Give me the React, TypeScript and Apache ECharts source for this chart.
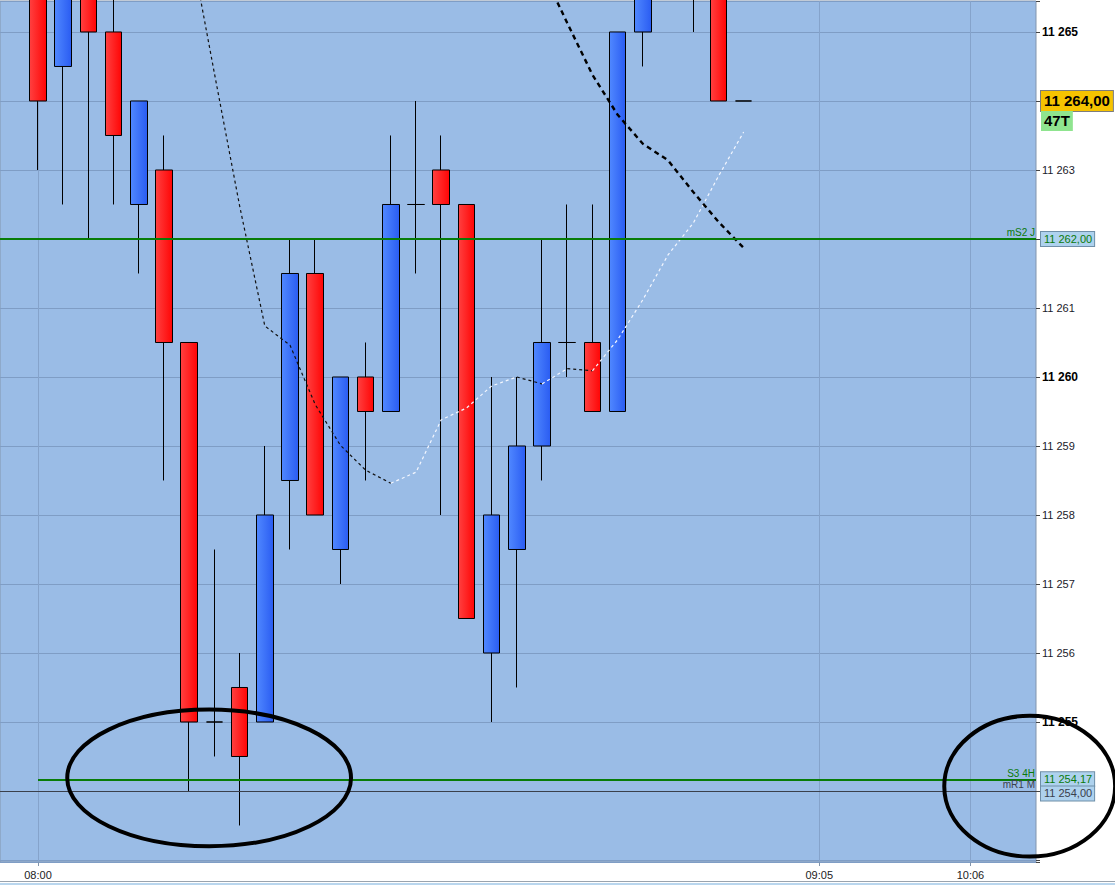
import { useEffect, useRef } from "react";
import * as echarts from "echarts";

// bar index of each time label on the x axis
const TIME_LABELS = ["08:00", "09:05", "10:06"];
const TIME_LABEL_BARS = [0, 31, 37];

// 47-tick bars, one entry per bar
const OPENS = [11266, 11264.5, 11266, 11265, 11262.5, 11263, 11260.5, 11255, 11255.5, 11255, 11258.5, 11261.5, 11257.5, 11260, 11259.5, 11262.5, 11263, 11262.5, 11256, 11257.5, 11259, 11260.5, 11260.5, 11259.5, 11265, 11266, 11266.5, 11266, 11264];
const CLOSES = [11264, 11266, 11265, 11263.5, 11264, 11260.5, 11255, 11255, 11254.5, 11258, 11261.5, 11258, 11260, 11259.5, 11262.5, 11262.5, 11262.5, 11256.5, 11258, 11259, 11260.5, 11260.5, 11259.5, 11265, 11266, 11267, 11266, 11264, 11264];
const LOWS = [11263, 11262.5, 11262, 11262.5, 11261.5, 11258.5, 11254, 11254.5, 11253.5, 11255, 11257.5, 11258, 11257, 11258.5, 11259.5, 11261.5, 11258, 11256.5, 11255, 11255.5, 11258.5, 11260, 11259.5, 11259.5, 11264.5, 11265.75, 11265, 11264, 11264];
const HIGHS = [11266.5, 11266.5, 11266.5, 11266, 11264, 11263.5, 11260.5, 11257.5, 11256, 11259, 11262, 11262, 11260, 11260.5, 11263.5, 11264, 11263.5, 11262.5, 11260, 11260, 11262, 11262.5, 11262.5, 11265, 11266.5, 11267.5, 11267, 11266, 11264];

// moving averages (fast one is drawn white while rising, black while falling)
const MA_FAST = [null, null, null, null, null, null, 11266.35, 11264.4, 11262.48, 11260.74, 11260.46, 11259.6, 11259.01, 11258.65, 11258.46, 11258.62, 11259.38, 11259.55, 11259.87, 11260.0, 11259.9, 11260.12, 11260.09, 11260.54, 11261.12, 11261.77, 11262.23, 11262.91, 11263.55];
const MA_SLOW = [null, null, null, null, null, null, null, null, null, null, null, null, null, null, null, null, null, null, null, null, 11265.9, 11265.13, 11264.38, 11263.8, 11263.38, 11263.14, 11262.68, 11262.25, 11261.87];

// pivot levels
const LEVEL_NAMES = ["mS2 J", "S3 4H", "mR1 M"];
const LEVEL_VALUES = [11262, 11254.17, 11254];
const LEVEL_FROM_BAR: (number | null)[] = [null, 0, null];

const LAST_PRICE = 11264;
const BAR_TYPE = "47T";

// hand-drawn circles: centre (bar, price) and radii (bars, points)
const CIRCLE_BARS = [6.79, 39.35];
const CIRCLE_PRICES = [11254.19, 11254.07];
const CIRCLE_RX = [5.63, 3.39];
const CIRCLE_RY = [0.99, 1.02];

const X_MIN = -1.508;
const X_MAX = 39.6;
const Y_MIN = 11252.971;
const Y_MAX = 11265.449;

const LEVEL_COLORS = ["#087c08", "#087c08", "#3a404c"];
const LEVEL_WIDTHS = [2, 2, 1];
const LEVEL_TEXT = ["#0a7a0a", "#0a7a0a", "#3a404c"];
const GRID_LINE = "#7f9dc5";
const FONT = "Liberation Sans";
const HIDDEN_LINE = { color: "rgba(0,0,0,0)", width: 1, type: "solid" };

function fmtPrice(v: number, decimals: number) {
  const [i, d] = v.toFixed(decimals).split(".");
  const int = i.replace(/\B(?=(\d{3})+(?!\d))/g, " ");
  return d ? `${int},${d}` : int;
}

function trendSegments(values: (number | null)[]) {
  const segs: { rising: boolean; points: [number, number][] }[] = [];
  for (let i = 1; i < values.length; i++) {
    const a = values[i - 1];
    const b = values[i];
    if (a == null || b == null) continue;
    const rising = b >= a;
    const last = segs[segs.length - 1];
    if (last && last.rising === rising && last.points[last.points.length - 1][0] === i - 1) {
      last.points.push([i, b]);
    } else {
      segs.push({ rising, points: [[i - 1, a], [i, b]] });
    }
  }
  return segs;
}

// axis prices that sit under a price box on the right
const COVERED = [LAST_PRICE, ...LEVEL_VALUES].map((v) => Math.round(v));

function buildOption() {
  const blueBody = new echarts.graphic.LinearGradient(0, 0, 1, 0, [
    { offset: 0, color: "#5088ff" },
    { offset: 1, color: "#2a5cf2" },
  ]);
  const redBody = new echarts.graphic.LinearGradient(0, 0, 1, 0, [
    { offset: 0, color: "#ff4040" },
    { offset: 1, color: "#ff0505" },
  ]);

  const levelLines: any[] = [];
  LEVEL_VALUES.forEach((value, i) => {
    const from = LEVEL_FROM_BAR[i];
    const nameLabel = {
      show: true,
      position: "insideEndTop",
      distance: 1,
      formatter: LEVEL_NAMES[i],
      color: LEVEL_TEXT[i],
      fontSize: 10,
      fontFamily: FONT,
    };
    const lineStyle = { color: LEVEL_COLORS[i], width: LEVEL_WIDTHS[i], type: "solid" };
    if (from == null) {
      levelLines.push({ yAxis: value, lineStyle, label: nameLabel });
    } else {
      levelLines.push([
        { coord: [from, value], lineStyle, label: nameLabel },
        { coord: [X_MAX, value] },
      ]);
    }
    levelLines.push({
      yAxis: value,
      lineStyle: HIDDEN_LINE,
      label: {
        show: true,
        position: "end",
        distance: 5,
        offset: i === 2 ? [0, 2.5] : [0, 0],
        formatter: fmtPrice(value, 2),
        color: LEVEL_TEXT[i],
        fontSize: 11,
        fontFamily: FONT,
        backgroundColor: "#aed2ee",
        borderColor: "#6f8fa8",
        borderWidth: 1,
        padding: [2, 2, 1, 3],
      },
    });
  });

  levelLines.push({
    yAxis: LAST_PRICE,
    lineStyle: HIDDEN_LINE,
    label: {
      show: true,
      position: "end",
      distance: 5,
      formatter: `{gap| }\n{price|${fmtPrice(LAST_PRICE, 2)}}\n{bar|${BAR_TYPE}}`,
      rich: {
        gap: { height: 20, fontSize: 12, color: "rgba(0,0,0,0)" },
        price: {
          height: 20,
          fontSize: 15,
          fontWeight: "bold",
          fontFamily: FONT,
          color: "#000",
          backgroundColor: "#f6c300",
          borderColor: "#7d7d7d",
          borderWidth: 1,
          padding: [0, 3],
        },
        bar: {
          height: 20,
          fontSize: 15,
          fontWeight: "bold",
          fontFamily: FONT,
          color: "#000",
          backgroundColor: "#8fe48f",
          padding: [0, 3],
        },
      },
    },
  });

  const fastSeries = trendSegments(MA_FAST).map((seg) => ({
    type: "line",
    data: seg.points,
    showSymbol: false,
    clip: true,
    silent: true,
    z: 4,
    lineStyle: { color: seg.rising ? "#f4f7ff" : "#111", width: 1.2, type: [3, 3] },
  }));

  return {
    animation: false,
    backgroundColor: "#ffffff",
    textStyle: { fontFamily: FONT },
    grid: {
      left: 0,
      right: 79,
      top: 1,
      bottom: 23,
      show: true,
      backgroundColor: "#9abce6",
      borderColor: "#8295ad",
      borderWidth: 1,
      containLabel: false,
      outerBoundsMode: "none",
    },
    xAxis: {
      type: "value",
      min: X_MIN,
      max: X_MAX,
      axisLine: { show: false, onZero: false },
      splitLine: { show: false },
      axisTick: { show: true, length: 4, customValues: TIME_LABEL_BARS, lineStyle: { color: "#8295ad" } },
      axisLabel: {
        customValues: TIME_LABEL_BARS,
        margin: 7,
        color: "#222",
        fontSize: 11,
        fontFamily: FONT,
        formatter: (v: number) => {
          const k = TIME_LABEL_BARS.indexOf(Math.round(v));
          return k >= 0 ? TIME_LABELS[k] : "";
        },
      },
    },
    yAxis: {
      type: "value",
      position: "right",
      min: Y_MIN,
      max: Y_MAX,
      splitNumber: 12,
      minInterval: 1,
      maxInterval: 1,
      axisLine: { show: false, onZero: false },
      axisTick: { show: true, length: 4, lineStyle: { color: "#444" } },
      splitLine: { show: true, lineStyle: { color: GRID_LINE, width: 1 } },
      axisLabel: {
        margin: 6,
        formatter: (v: number) => {
          const r = Math.round(v);
          if (Math.abs(v - r) > 1e-6 || v < 11253.5 || COVERED.includes(r)) return "";
          const s = fmtPrice(v, 0);
          return r % 5 === 0 ? `{b|${s}}` : `{n|${s}}`;
        },
        rich: {
          b: { fontSize: 12, fontWeight: "bold", color: "#000", fontFamily: FONT },
          n: { fontSize: 11, color: "#1a1a2a", fontFamily: FONT },
        },
      },
    },
    graphic: [
      { type: "line", silent: true, shape: { x1: 0, y1: 881.5, x2: 1115, y2: 881.5 }, style: { stroke: "#9aa3ad", lineWidth: 1 } },
      { type: "line", silent: true, shape: { x1: 0, y1: 884, x2: 1115, y2: 884 }, style: { stroke: "#b9d6ee", lineWidth: 2 } },
    ],
    series: [
      {
        type: "candlestick",
        data: OPENS.map((o, i) => [i, o, CLOSES[i], LOWS[i], HIGHS[i]]),
        encode: { x: 0, y: [1, 2, 3, 4] },
        barWidth: 17,
        clip: true,
        silent: true,
        z: 3,
        itemStyle: {
          color: blueBody,
          color0: redBody,
          borderColor: "#000",
          borderColor0: "#000",
          borderWidth: 1,
        },
        markLine: {
          silent: true,
          symbol: ["none", "none"],
          animation: false,
          z: 5,
          data: levelLines,
        },
      },
      ...fastSeries,
      {
        type: "line",
        data: MA_SLOW.map((v, i) => [i, v]),
        showSymbol: false,
        connectNulls: false,
        clip: true,
        silent: true,
        z: 4,
        lineStyle: { color: "#000", width: 2.4, type: [5, 4] },
        markLine: {
          silent: true,
          symbol: ["none", "none"],
          animation: false,
          z: 1,
          label: { show: false },
          lineStyle: { color: "#85a3cb", width: 1, type: "solid" },
          data: TIME_LABEL_BARS.map((b) => ({ xAxis: b })),
        },
      },
      {
        type: "custom",
        silent: true,
        z: 10,
        clip: false,
        data: CIRCLE_BARS.map((b, i) => [b, CIRCLE_PRICES[i], CIRCLE_RX[i], CIRCLE_RY[i]]),
        encode: { x: 0, y: 1 },
        renderItem: (_params: any, api: any) => {
          const c = api.coord([api.value(0), api.value(1)]);
          const s = api.size([api.value(2), api.value(3)]);
          return {
            type: "ellipse",
            shape: { cx: c[0], cy: c[1], rx: s[0], ry: s[1] },
            style: { fill: "none", stroke: "#000", lineWidth: 4 },
          };
        },
      },
    ],
  };
}

export default function App() {
  const ref = useRef<HTMLDivElement | null>(null);

  useEffect(() => {
    if (!ref.current) {
      return;
    }
    const chart = echarts.init(ref.current, undefined, { renderer: "svg" });
    chart.setOption(buildOption() as any);
    return () => {
      chart.dispose();
    };
  }, []);

  return (
    <div
      ref={ref}
      style={{ position: "fixed", left: 0, top: 0, width: 1115, height: 885, background: "#fff" }}
    />
  );
}
